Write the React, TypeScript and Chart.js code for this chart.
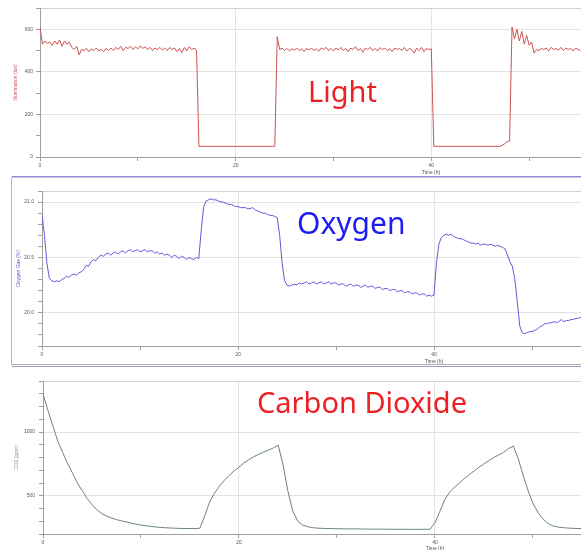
import React, { useEffect, useRef } from 'react';
import { Chart, registerables } from 'chart.js';

Chart.register(...registerables);

// ---------------- DATA ----------------
// Light: illumination (lux), one reading every 0.25 h starting at t = 0 h
const LIGHT_STEP_H = 0.25;
const lightLux = [
  610, 530, 545, 535, 540, 525, 545, 530, 550, 520, 545, 530, 540, 515, 505, 520,
  480, 505, 500, 510, 495, 508, 500, 512, 498, 505, 495, 510, 500, 512, 500, 515,
  505, 520, 500, 515, 510, 520, 505, 518, 508, 522, 510, 518, 505, 515, 500, 512,
  505, 515, 502, 512, 500, 515, 505, 512, 495, 510, 490, 515, 498, 518, 505, 512,
  500, 50, 50, 50, 50, 50, 50, 50, 50, 50, 50, 50, 50, 50, 50, 50,
  50, 50, 50, 50, 50, 50, 50, 50, 50, 50, 50, 50, 50, 50, 50, 50,
  50, 565, 505, 512, 500, 510, 498, 508, 502, 512, 500, 508, 495, 510, 503, 512,
  500, 508, 497, 512, 505, 515, 500, 510, 498, 512, 503, 515, 500, 510, 495, 512,
  505, 518, 500, 510, 492, 512, 505, 515, 500, 510, 498, 514, 505, 512, 500, 508,
  495, 512, 505, 510, 500, 515, 498, 510, 505, 488, 512, 500, 515, 495, 510, 505,
  508, 50, 50, 50, 50, 50, 50, 50, 50, 50, 50, 50, 50, 50, 50, 50,
  50, 50, 50, 50, 50, 50, 50, 50, 50, 50, 50, 50, 50, 55, 62, 72,
  75, 610, 555, 600, 545, 590, 530, 570, 525, 540, 488, 505, 500, 510, 505, 512,
  498, 515, 505, 510, 502, 515, 500, 512, 505, 510, 498, 512, 505, 500,
];

// Oxygen gas (%), one reading every 0.25 h starting at t = 0 h
const OXYGEN_STEP_H = 0.25;
const oxygenPct = [
  20.89, 20.70, 20.45, 20.31, 20.29, 20.28, 20.29, 20.28, 20.30, 20.31, 20.33, 20.32,
  20.34, 20.35, 20.34, 20.36, 20.37, 20.39, 20.43, 20.42, 20.46, 20.48, 20.47, 20.50,
  20.52, 20.51, 20.53, 20.54, 20.52, 20.54, 20.55, 20.53, 20.55, 20.56, 20.54, 20.56,
  20.57, 20.55, 20.56, 20.57, 20.55, 20.56, 20.57, 20.55, 20.56, 20.56, 20.54, 20.55,
  20.53, 20.54, 20.52, 20.53, 20.52, 20.50, 20.52, 20.51, 20.49, 20.51, 20.50, 20.48,
  20.50, 20.49, 20.48, 20.50, 20.49, 20.75, 20.96, 21.01, 21.02, 21.03, 21.02, 21.02,
  21.01, 21.00, 21.00, 20.99, 20.98, 20.98, 20.97, 20.96, 20.96, 20.95, 20.95, 20.95,
  20.94, 20.94, 20.95, 20.93, 20.92, 20.91, 20.90, 20.90, 20.89, 20.88, 20.88, 20.87,
  20.86, 20.70, 20.45, 20.29, 20.25, 20.24, 20.25, 20.26, 20.25, 20.27, 20.26, 20.27,
  20.28, 20.26, 20.27, 20.28, 20.26, 20.27, 20.28, 20.26, 20.27, 20.28, 20.26, 20.27,
  20.27, 20.25, 20.26, 20.26, 20.24, 20.25, 20.26, 20.24, 20.25, 20.25, 20.23, 20.24,
  20.25, 20.23, 20.24, 20.24, 20.22, 20.23, 20.23, 20.21, 20.22, 20.22, 20.20, 20.21,
  20.21, 20.19, 20.20, 20.20, 20.18, 20.19, 20.19, 20.17, 20.18, 20.18, 20.16, 20.17,
  20.17, 20.15, 20.16, 20.15, 20.16, 20.45, 20.62, 20.68, 20.70, 20.71, 20.70, 20.71,
  20.69, 20.68, 20.67, 20.67, 20.66, 20.65, 20.64, 20.63, 20.63, 20.62, 20.63, 20.61,
  20.62, 20.62, 20.61, 20.62, 20.61, 20.60, 20.61, 20.60, 20.59, 20.58, 20.52, 20.46,
  20.42, 20.30, 20.10, 19.88, 19.82, 19.81, 19.82, 19.83, 19.83, 19.84, 19.85, 19.87,
  19.88, 19.90, 19.90, 19.91, 19.91, 19.92, 19.91, 19.92, 19.94, 19.92, 19.93, 19.93,
  19.94, 19.94, 19.95, 19.95, 19.96,
];

// CO2 (ppm), one reading every 0.5 h starting at t = 0 h
const CO2_STEP_H = 0.5;
const co2Ppm = [
  1300, 1170, 1050, 930, 840, 755, 680, 600, 540, 480, 430, 390, 360, 340, 325, 313,
  303, 295, 285, 277, 270, 265, 260, 255, 252, 249, 247, 245, 244, 243, 243, 242,
  245, 340, 450, 520, 575, 620, 660, 695, 725, 757, 782, 806, 825, 842, 858, 875,
  897, 741, 533, 378, 300, 270, 257, 250, 246, 244, 243, 242, 241, 241, 240, 240,
  240, 239, 239, 238, 238, 238, 238, 237, 237, 237, 237, 236, 237, 236, 237, 237,
  290, 378, 470, 528, 568, 600, 635, 665, 695, 725, 750, 775, 800, 820, 840, 870,
  889, 790, 660, 540, 440, 370, 320, 285, 265, 255, 250, 247, 245, 243, 242,
];

// Axis ticks
const timeTicks = [0, 10, 20, 30, 40, 50];
const timeLabelTicks = [0, 20, 40];
const timeGridTicks = [20, 40];

const lightTicks = [0, 100, 200, 300, 400, 500, 600, 700];
const lightLabelTicks = [0, 200, 400, 600];

const oxygenTicks = [19.7, 19.8, 19.9, 20.0, 20.1, 20.2, 20.3, 20.4, 20.5, 20.6, 20.7, 20.8, 20.9, 21.0, 21.1];
const oxygenLabelTicks = [20.0, 20.5, 21.0];

const co2Ticks = [200, 300, 400, 500, 600, 700, 800, 900, 1000, 1100, 1200, 1300, 1400];
const co2LabelTicks = [500, 1000];

// ---------------- STYLE ----------------
const TICK_FONT = { family: "'Liberation Sans', Arial, sans-serif", size: 5 };
const GRID = '#e3e3e3';
const TOP_BORDER = '#d2d2d2';
const AXIS = '#a0a0a0';
const TICK = '#a0a0a0';
const LABEL = '#555555';
const CLEAR = 'rgba(0,0,0,0)';

const near = (a: number, b: number) => Math.abs(a - b) < 1e-6;

interface PanelCfg {
  top: number;
  height: number;
  padTop: number;
  xAxisHeight: number;
  yAxisWidth: number;
  xMax: number;
  step: number;
  values: number[];
  yMin: number;
  yMax: number;
  yTicks: number[];
  yLabels: number[];
  yDecimals: number;
  labelPad: number;
  color: string;
  yTitle: string;
  yTitleColor: string;
  titlePad: number;
}

const panels: PanelCfg[] = [
  {
    top: 0, height: 176, padTop: 8, xAxisHeight: 19, yAxisWidth: 40, xMax: 55.3,
    step: LIGHT_STEP_H, values: lightLux, yMin: 0, yMax: 700,
    yTicks: lightTicks, yLabels: lightLabelTicks, yDecimals: 0, labelPad: 3,
    color: '#cc5252', yTitle: 'Illumination (lux)', yTitleColor: '#d05858', titlePad: 13,
  },
  {
    top: 177, height: 187, padTop: 14, xAxisHeight: 18, yAxisWidth: 42, xMax: 55.0,
    step: OXYGEN_STEP_H, values: oxygenPct, yMin: 19.7, yMax: 21.1,
    yTicks: oxygenTicks, yLabels: oxygenLabelTicks, yDecimals: 1, labelPad: 4,
    color: '#5c5cda', yTitle: 'Oxygen Gas (%)', yTitleColor: '#5a5ad4', titlePad: 16,
  },
  {
    top: 367, height: 183, padTop: 14, xAxisHeight: 16, yAxisWidth: 43, xMax: 54.9,
    step: CO2_STEP_H, values: co2Ppm, yMin: 200, yMax: 1400,
    yTicks: co2Ticks, yLabels: co2LabelTicks, yDecimals: 0, labelPad: 4,
    color: '#6a866e', yTitle: 'CO2 (ppm)', yTitleColor: '#8a9a8a', titlePad: 14,
  },
];

function Panel({ cfg }: { cfg: PanelCfg }) {
  const ref = useRef<HTMLCanvasElement>(null);
  useEffect(() => {
    const c = cfg;
    const chart = new Chart(ref.current as HTMLCanvasElement, {
      type: 'line',
      data: {
        datasets: [
          {
            data: c.values.map((v, i) => ({ x: i * c.step, y: v })),
            borderColor: c.color,
            borderWidth: 1,
            pointRadius: 0,
            tension: 0,
            fill: false,
          },
        ],
      },
      options: {
        animation: false,
        responsive: false,
        devicePixelRatio: 1,
        layout: { padding: { top: c.padTop, left: 0, right: 0, bottom: 0 } },
        plugins: {
          legend: { display: false },
          tooltip: { enabled: false },
          title: { display: false },
        },
        scales: {
          x: {
            type: 'linear',
            min: 0,
            max: c.xMax,
            afterBuildTicks: (s: any) => {
              s.ticks = timeTicks.map((v) => ({ value: v }));
            },
            afterFit: (s: any) => {
              s.height = c.xAxisHeight;
            },
            ticks: {
              autoSkip: false,
              maxRotation: 0,
              padding: 2,
              font: TICK_FONT,
              color: LABEL,
              callback: (v: any) => (timeLabelTicks.some((t) => near(t, Number(v))) ? String(v) : ''),
            },
            grid: {
              color: (ctx: any) =>
                ctx.tick && timeGridTicks.some((t) => near(t, ctx.tick.value)) ? GRID : CLEAR,
              tickColor: TICK,
              tickLength: 4,
              drawTicks: true,
            },
            border: { display: true, color: AXIS, width: 1 },
          },
          y: {
            type: 'linear',
            min: c.yMin,
            max: c.yMax,
            afterBuildTicks: (s: any) => {
              s.ticks = c.yTicks.map((v) => ({ value: v }));
            },
            afterFit: (s: any) => {
              s.width = c.yAxisWidth;
            },
            ticks: {
              autoSkip: false,
              padding: c.labelPad,
              font: TICK_FONT,
              color: LABEL,
              callback: (v: any) => {
                const n = Number(v);
                return c.yLabels.some((l) => near(l, n)) ? n.toFixed(c.yDecimals) : '';
              },
            },
            grid: {
              color: (ctx: any) => {
                if (!ctx.tick) return CLEAR;
                const v = ctx.tick.value;
                if (near(v, c.yMax)) return TOP_BORDER;
                if (!near(v, c.yMin) && c.yLabels.some((l) => near(l, v))) return GRID;
                return CLEAR;
              },
              tickColor: TICK,
              tickLength: 4,
              drawTicks: true,
            },
            border: { display: true, color: AXIS, width: 1 },
            title: {
              display: true,
              text: c.yTitle,
              color: c.yTitleColor,
              font: TICK_FONT,
              padding: { top: c.titlePad, bottom: 0 },
            },
          },
        },
      },
    } as any);
    return () => chart.destroy();
  }, [cfg]);
  return (
    <canvas
      ref={ref}
      width={581}
      height={cfg.height}
      style={{ position: 'absolute', left: 0, top: cfg.top, display: 'block' }}
    />
  );
}

const bigLabel = (text: string, left: number, top: number, size: number, color: string) => (
  <div
    style={{
      position: 'absolute',
      left,
      top,
      fontFamily: "'Noto Sans', sans-serif",
      fontSize: size,
      lineHeight: 1,
      color,
      whiteSpace: 'nowrap',
    }}
  >
    {text}
  </div>
);

const timeTitle = (cx: number, cy: number) => (
  <div
    style={{
      position: 'absolute',
      left: cx - 20,
      width: 40,
      top: cy - 3,
      height: 6,
      lineHeight: '6px',
      textAlign: 'center',
      fontFamily: "'Liberation Sans', Arial, sans-serif",
      fontSize: 5,
      color: LABEL,
      whiteSpace: 'nowrap',
    }}
  >
    Time (h)
  </div>
);

const line = (left: number, top: number, width: number, height: number, color: string) => (
  <div style={{ position: 'absolute', left, top, width, height, background: color }} />
);

export default function App() {
  return (
    <div
      style={{
        position: 'absolute',
        left: 0,
        top: 0,
        width: 581,
        height: 550,
        overflow: 'hidden',
        background: '#ffffff',
      }}
    >
      {panels.map((p, i) => (
        <Panel key={i} cfg={p} />
      ))}
      {/* panel frames */}
      {line(12, 176, 569, 1, '#8a8acc')}
      {line(12, 177, 569, 1, '#c8c8de')}
      {line(11, 177, 1, 187, '#b8b8b8')}
      {line(11, 364, 570, 1, '#acacac')}
      {line(12, 366, 569, 1, '#9898cc')}
      {/* axis titles placed under the 40 h tick */}
      {timeTitle(431, 172)}
      {timeTitle(434, 361)}
      {timeTitle(435, 548)}
      {/* overlay captions */}
      {bigLabel('Light', 308, 76, 29, '#ee2024')}
      {bigLabel('Oxygen', 297, 208, 30, '#1c1cf5')}
      {bigLabel('Carbon Dioxide', 257, 387, 29, '#ee2024')}
    </div>
  );
}
